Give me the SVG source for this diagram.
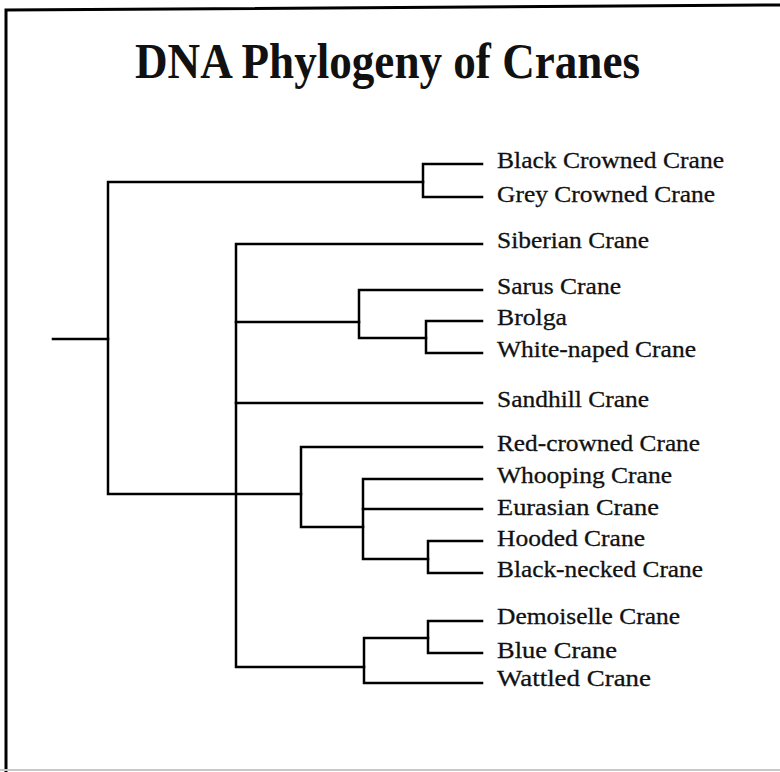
<svg xmlns="http://www.w3.org/2000/svg" width="780" height="772" viewBox="0 0 780 772">
<style>
.ln{fill:none;stroke:#000;stroke-width:2.5;stroke-linecap:square;stroke-linejoin:miter}
.lb{font-family:"Liberation Serif","Times New Roman",serif;font-size:24px;fill:#111;stroke:#111;stroke-width:0.3}
.tt{font-family:"Liberation Serif","Times New Roman",serif;font-size:50px;font-weight:bold;fill:#111}
</style>
<rect x="0" y="0" width="780" height="772" fill="#fff"/>
<path d="M6 772 V10 L780 5" fill="none" stroke="#000" stroke-width="3"/>
<path d="M0 770 H780" fill="none" stroke="#c8c8c8" stroke-width="2"/>
<g id="title"><text class="tt" x="135" y="78" textLength="505" lengthAdjust="spacingAndGlyphs">DNA Phylogeny of Cranes</text></g>
<g id="connectors">
<path class="ln" d="M53 339 H108"/>
<path class="ln" d="M423 182 H108 V494 H301"/>
<path class="ln" d="M482 164 H423 V197 H482"/>
<path class="ln" d="M482 244 H236 V667 H364"/>
<path class="ln" d="M236 322 H359"/>
<path class="ln" d="M482 290 H359 V338 H426"/>
<path class="ln" d="M482 321 H426 V353 H482"/>
<path class="ln" d="M236 403 H482"/>
<path class="ln" d="M482 447 H301 V527 H363"/>
<path class="ln" d="M482 479 H363 V559 H428"/>
<path class="ln" d="M363 509 H482"/>
<path class="ln" d="M482 541 H428 V573 H482"/>
<path class="ln" d="M482 683 H364 V638 H428"/>
<path class="ln" d="M482 621 H428 V653 H482"/>
</g>
<g id="black-crowned"><text class="lb" x="497" y="168" textLength="227" lengthAdjust="spacingAndGlyphs">Black Crowned Crane</text></g>
<g id="grey-crowned"><text class="lb" x="497" y="202" textLength="218" lengthAdjust="spacingAndGlyphs">Grey Crowned Crane</text></g>
<g id="siberian"><text class="lb" x="497" y="248" textLength="152" lengthAdjust="spacingAndGlyphs">Siberian Crane</text></g>
<g id="sarus"><text class="lb" x="497" y="294" textLength="124" lengthAdjust="spacingAndGlyphs">Sarus Crane</text></g>
<g id="brolga"><text class="lb" x="497" y="325" textLength="70" lengthAdjust="spacingAndGlyphs">Brolga</text></g>
<g id="white-naped"><text class="lb" x="497" y="357" textLength="199" lengthAdjust="spacingAndGlyphs">White-naped Crane</text></g>
<g id="sandhill"><text class="lb" x="497" y="407" textLength="152" lengthAdjust="spacingAndGlyphs">Sandhill Crane</text></g>
<g id="red-crowned"><text class="lb" x="497" y="451" textLength="203" lengthAdjust="spacingAndGlyphs">Red-crowned Crane</text></g>
<g id="whooping"><text class="lb" x="497" y="483" textLength="175" lengthAdjust="spacingAndGlyphs">Whooping Crane</text></g>
<g id="eurasian"><text class="lb" x="497" y="515" textLength="162" lengthAdjust="spacingAndGlyphs">Eurasian Crane</text></g>
<g id="hooded"><text class="lb" x="497" y="546" textLength="148" lengthAdjust="spacingAndGlyphs">Hooded Crane</text></g>
<g id="black-necked"><text class="lb" x="497" y="577" textLength="206" lengthAdjust="spacingAndGlyphs">Black-necked Crane</text></g>
<g id="demoiselle"><text class="lb" x="497" y="624" textLength="183" lengthAdjust="spacingAndGlyphs">Demoiselle Crane</text></g>
<g id="blue"><text class="lb" x="497" y="658" textLength="120" lengthAdjust="spacingAndGlyphs">Blue Crane</text></g>
<g id="wattled"><text class="lb" x="497" y="686" textLength="154" lengthAdjust="spacingAndGlyphs">Wattled Crane</text></g>
</svg>
